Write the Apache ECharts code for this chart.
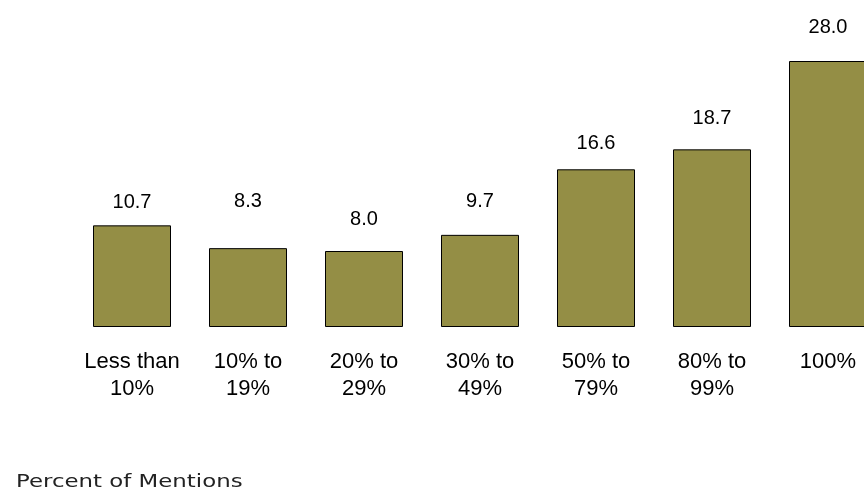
<!DOCTYPE html>
<html>
<head>
<meta charset="utf-8">
<script src="https://cdn.jsdelivr.net/npm/echarts@6/dist/echarts.min.js"></script>
<style>
  html, body { margin: 0; padding: 0; background: #fff; }
  #chart { width: 864px; height: 493px; }
</style>
</head>
<body>
<div id="chart"></div>
<script>
// data
var categories = ["Less than\n10%", "10% to\n19%", "20% to\n29%", "30% to\n49%", "50% to\n79%", "80% to\n99%", "100%"];
var values = [10.7, 8.3, 8.0, 9.7, 16.6, 18.7, 28.0];
// the original labels do not sit at a fixed gap above the bars
var labelGaps = [13, 37, 22, 23, 16, 21, 24];

var chart = echarts.init(document.getElementById("chart"), null, { renderer: "canvas" });

var option = {
  animation: false,
  backgroundColor: "#ffffff",
  // footnote in a wide geometric face, so stretch it a bit
  graphic: [
    {
      type: "text",
      x: 16,
      y: 473,
      scaleX: 1.27,
      style: {
        text: "Percent of Mentions",
        font: "18px 'DejaVu Sans'",
        fill: "#222222"
      }
    }
  ],
  grid: {
    left: 74,
    right: -22,
    top: 42,
    bottom: 166,
    outerBoundsMode: "none"
  },
  xAxis: {
    type: "category",
    data: categories,
    axisLine: { show: false },
    axisTick: { show: false },
    axisLabel: {
      interval: 0,
      margin: 21,
      fontFamily: "Liberation Sans",
      fontSize: 22,
      lineHeight: 27,
      color: "#000000"
    }
  },
  yAxis: {
    type: "value",
    min: 0,
    max: 30,
    show: false
  },
  series: [
    {
      type: "bar",
      barWidth: 78,
      data: values.map(function (v, i) {
        return { value: v, label: { distance: labelGaps[i] } };
      }),
      itemStyle: {
        color: "#948E45",
        borderColor: "#000000",
        borderWidth: 1
      },
      label: {
        show: true,
        position: "top",
        formatter: function (p) { return p.value.toFixed(1); },
        fontFamily: "Liberation Sans",
        fontSize: 20,
        color: "#000000"
      }
    }
  ]
};

chart.setOption(option);
</script>
</body>
</html>
